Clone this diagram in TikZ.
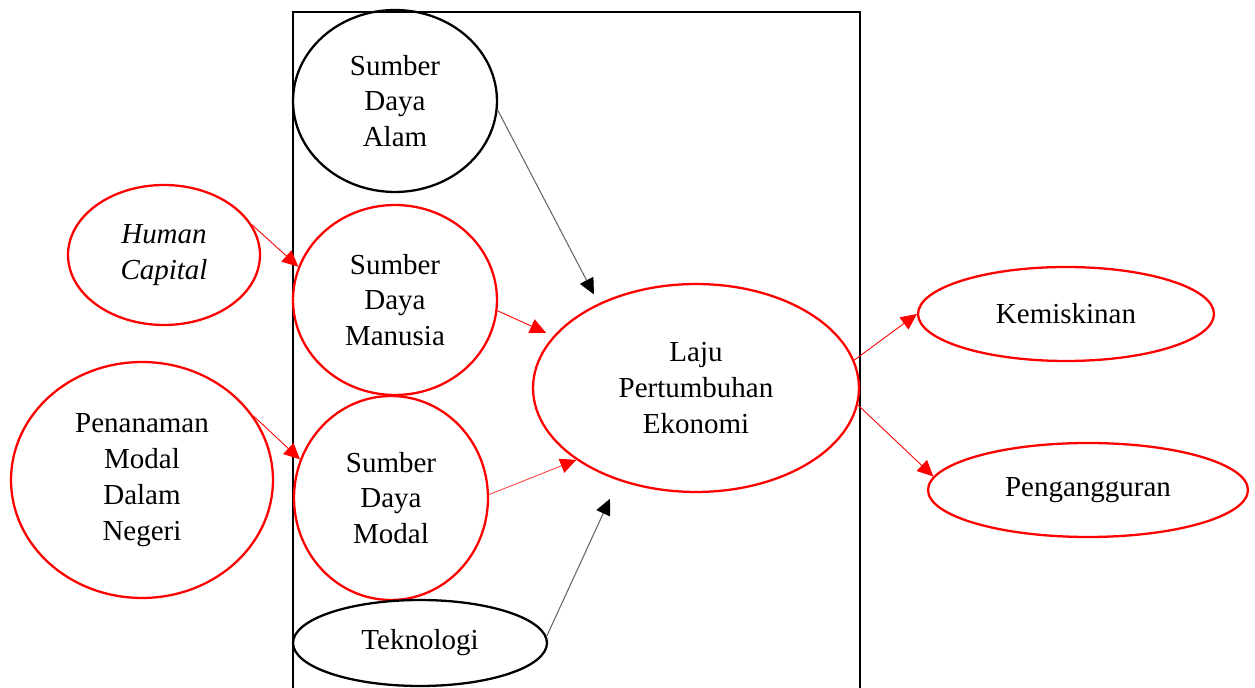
\documentclass[tikz,border=0pt]{standalone}
\usepackage{fontspec}
\setmainfont{Liberation Serif}
\usetikzlibrary{arrows.meta,shapes.geometric}
\begin{document}
\begin{tikzpicture}[x=0.02cm,y=-0.02cm,
  font=\fontsize{16.5}{20.4}\selectfont,
  oval/.style={ellipse,draw=black,line width=1.3pt,inner sep=0pt,align=center},
  redoval/.style={oval,draw=red},
  blackarrow/.style={draw=black!60,line width=0.6pt,-{Triangle[length=0.32cm,width=0.3cm,color=black,fill=black]}},
  redarrow/.style={draw=red,line width=0.5pt,-{Triangle[length=0.32cm,width=0.3cm,color=red,fill=red]}}]
  \useasboundingbox (0,0) rectangle (1255,688);
  \draw[line width=1.4pt] (293,688) -- (293,12) -- (860,12) -- (860,688);
  \node[oval,minimum width=4.08cm,minimum height=3.64cm] (sda) at (395,101) {Sumber\\Daya\\Alam};
  \node[redoval,minimum width=3.84cm,minimum height=2.8cm] (hc) at (164,255) {\itshape Human\\\itshape Capital};
  \node[redoval,minimum width=4.08cm,minimum height=3.8cm] (sdm) at (395,300) {Sumber\\Daya\\Manusia};
  \node[redoval,minimum width=5.24cm,minimum height=4.72cm] (pmdn) at (142,480) {Penanaman\\Modal\\Dalam\\Negeri};
  \node[redoval,minimum width=3.88cm,minimum height=4.08cm] (modal) at (391,498) {Sumber\\Daya\\Modal};
  \node[oval,minimum width=5.08cm,minimum height=1.72cm] (tek) at (420,643) {Teknologi};
  \node[redoval,minimum width=6.52cm,minimum height=4.16cm] (laju) at (696,388) {Laju\\Pertumbuhan\\Ekonomi};
  \node[redoval,minimum width=5.92cm,minimum height=1.88cm] (miskin) at (1066,314) {Kemiskinan};
  \node[redoval,minimum width=6.4cm,minimum height=1.88cm] (nganggur) at (1088,490) {Pengangguran};
  \draw[blackarrow,shorten >=0.2cm] (sda.-5) -- (laju.139);
  \draw[redarrow] (hc.19) -- (sdm.161);
  \draw[redarrow,shorten >=0.16cm] (sdm.-6) -- (laju.160);
  \draw[redarrow] (pmdn.30) -- (modal.157);
  \draw[redarrow,draw=red!75] (modal.2) -- (laju.-149);
  \draw[blackarrow,shorten >=0.4cm] (tek.3) -- (laju.-130);
  \draw[redarrow] (laju.10) -- (miskin.west);
  \draw[redarrow] (laju.-6) -- (nganggur.175);
\end{tikzpicture}
\end{document}
